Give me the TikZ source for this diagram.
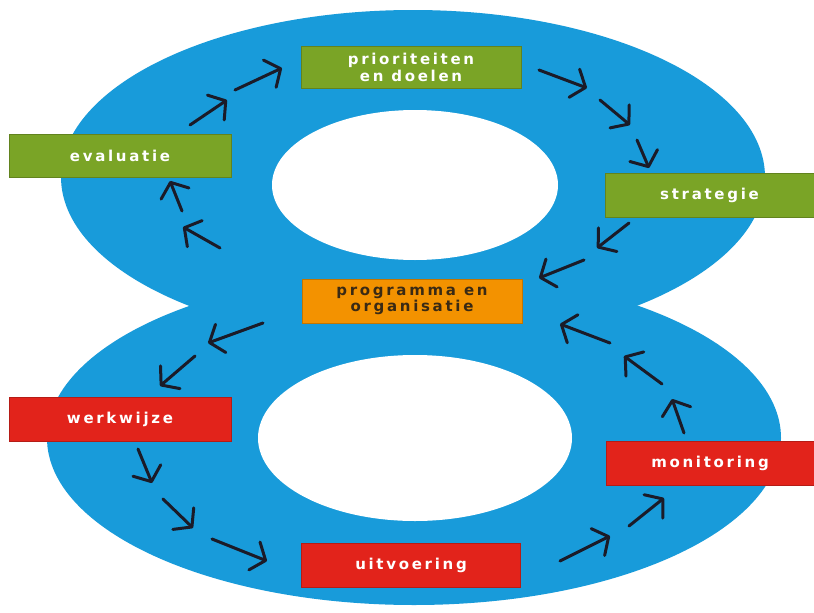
\documentclass[tikz,border=0pt]{standalone}
\usepackage{fontspec}
\setmainfont{DejaVu Sans}
\newfontfamily\boxfont{DejaVu Sans}[LetterSpace=18]
\usetikzlibrary{arrows.meta}
\definecolor{eightblue}{RGB}{24,155,218}
\definecolor{boxgreen}{RGB}{122,164,38}
\definecolor{boxorange}{RGB}{243,146,0}
\definecolor{boxred}{RGB}{226,35,27}
\definecolor{darktext}{RGB}{58,42,20}
\definecolor{arrowink}{RGB}{27,27,40}
\tikzset{
  stagebox/.style={rectangle, inner sep=0pt, minimum height=44pt, align=center,
    font=\boxfont\bfseries\fontsize{15}{16.5}\selectfont, text=white, line width=0.6pt},
  greenbox/.style={stagebox, fill=boxgreen, draw=boxgreen!80!black},
  redbox/.style={stagebox, fill=boxred, draw=boxred!80!black},
  orangebox/.style={stagebox, fill=boxorange, draw=boxorange!80!black, text=darktext},
  flowarrow/.style={draw=arrowink, line width=3pt, line cap=round,
    -{Straight Barb[length=12pt,width=30pt,line width=3pt,round]}}
}
\begin{document}
\begin{tikzpicture}[x=1pt,y=-1pt]
\useasboundingbox[fill=white] (0,0) rectangle (814,613);
% figure eight
\fill[eightblue] (413,177) ellipse [x radius=352, y radius=167];
\fill[eightblue] (414,438) ellipse [x radius=367, y radius=167];
\fill[white] (415,185) ellipse [x radius=143, y radius=75];
\fill[white] (415,438) ellipse [x radius=157, y radius=83];
% stages
\node[greenbox, minimum width=220pt, minimum height=42pt] (prio) at (411,67.5) {prioriteiten\\en doelen};
\node[greenbox, minimum width=222pt, minimum height=43pt] (eval) at (120,155.5) {evaluatie};
\node[greenbox, minimum width=209pt] (strat) at (709.5,195) {strategie};
\node[orangebox, minimum width=220pt] (prog) at (412,301) {programma en\\organisatie};
\node[redbox, minimum width=222pt] (werk) at (120,419) {werkwijze};
\node[redbox, minimum width=219pt] (uitv) at (411,565) {uitvoering};
\node[redbox, minimum width=208pt] (moni) at (710,463) {monitoring};
% arrows
\foreach \tail/\tip in {
  {235,90}/{282,68}, {190,125}/{227,100}, {182,211}/{170,181}, {220,248}/{183,227},
  {539,70}/{587,88}, {600,100}/{630,125}, {637,140}/{649,168},
  {629,223}/{597,248}, {584,260}/{539,278},
  {263,323}/{208,343}, {195,356}/{160,386},
  {138,449}/{152,483}, {163,499}/{193,528}, {212,539}/{267,561},
  {560,561}/{610,536}, {629,526}/{664,498},
  {684,433}/{672,399}, {662,384}/{624,356}, {610,343}/{560,324}}
  \draw[flowarrow] (\tail) -- (\tip);
\end{tikzpicture}
\end{document}
